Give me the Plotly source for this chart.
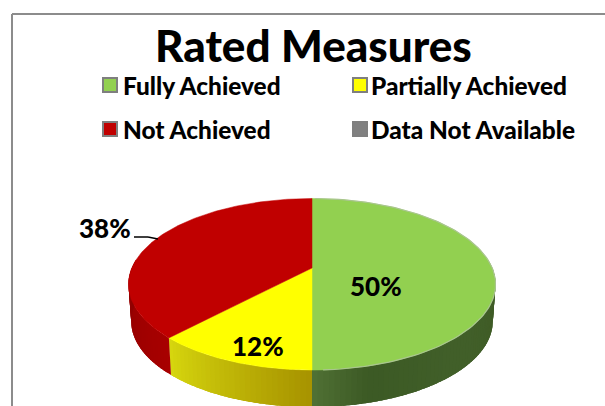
import numpy as np
import plotly.graph_objects as go

categories = ["Fully Achieved", "Partially Achieved", "Not Achieved", "Data Not Available"]
values = [50, 12, 38, 0]
title = "Rated Measures"

top_colors = {"Fully Achieved": "#92d050", "Partially Achieved": "#ffff00", "Not Achieved": "#c00000", "Data Not Available": "#808080"}
side_stops = {
    "Fully Achieved": [(0.0, "#3e5a25"), (0.55, "#42602a"), (0.85, "#3c5a25"), (1.0, "#4f7034")],
    "Partially Achieved": [(0.0, "#a89400"), (1.0, "#d6d60e")],
    "Not Achieved": [(0.0, "#a80000"), (1.0, "#8c0000")],
}
FONT = "Lato, Carlito, Calibri, sans-serif"

# projective pie geometry in pixel axes
CX, CY, AX, BY, K = 312.0, 268.0, 180.2, 82.7, 0.1895
DEPTH, SHRINK = 37.0, 0.985


def project(theta, depth=0.0, shrink=1.0):
    X, Y = np.sin(theta), np.cos(theta)
    w = 1 + K * Y
    return CX + shrink * AX * X / w, CY + depth - BY * Y / w


def hex2rgb(h):
    return np.array([int(h[i:i + 2], 16) for i in (1, 3, 5)], float)


def ramp(stops, t):
    for (a, ca), (b, cb) in zip(stops, stops[1:]):
        if t <= b:
            f = (t - a) / (b - a)
            c = hex2rgb(ca) * (1 - f) + hex2rgb(cb) * f
            return "rgb(%d,%d,%d)" % tuple(c)
    return stops[-1][1]


fig = go.Figure()
total = sum(values)
edges = np.cumsum([0] + values) / total * 2 * np.pi

# side wall (front half only: theta between 90 and 270 degrees)
for i, cat in enumerate(categories):
    t0, t1 = edges[i], edges[i + 1]
    if t1 <= t0:
        continue
    lo, hi = max(t0, np.radians(84)), min(t1, np.radians(276))
    if hi <= lo:
        continue
    n = int(np.degrees(hi - lo) / 1.5) + 1
    ts = np.linspace(lo, hi, n + 1)
    for j in range(n):
        # each band reaches over the next one so no seams show between them
        a = np.linspace(ts[j], min(ts[j] + 2.5 * (ts[1] - ts[0]), hi), 4)
        xt, yt = project(a)
        xb, yb = project(a[::-1], DEPTH, SHRINK)
        col = ramp(side_stops[cat], j / max(n - 1, 1))
        fig.add_trace(go.Scatter(
            x=np.r_[xt, xb, xt[0]], y=np.r_[yt, yb, yt[0]], mode="none", fill="toself",
            fillcolor=col, hoverinfo="skip", showlegend=False))

# top face
for i, cat in enumerate(categories):
    t0, t1 = edges[i], edges[i + 1]
    if t1 <= t0:
        continue
    a = np.linspace(t0, t1, 150)
    x, y = project(a)
    fig.add_trace(go.Scatter(
        x=np.r_[CX, x, CX], y=np.r_[CY, y, CY], mode="lines", fill="toself", name=cat,
        fillcolor=top_colors[cat], line=dict(color=top_colors[cat], width=0.5),
        hoverinfo="skip", showlegend=False))

# lighter rim on green slice
a = np.linspace(edges[0] + 0.02, edges[1] - 0.05, 120)
x, y = project(a)
fig.add_trace(go.Scatter(x=x, y=y, mode="lines", line=dict(color="#a9c58f", width=1.2),
                         hoverinfo="skip", showlegend=False))

# legend
leg_x = [110, 360, 110, 360]
leg_y = [85, 85, 129, 129]
text_x = [121, 369, 121, 369]
for cat, lx, ly in zip(categories, leg_x, leg_y):
    fig.add_trace(go.Scatter(
        x=[lx], y=[ly], mode="markers",
        marker=dict(symbol="square", size=14, color=top_colors[cat], line=dict(color="#7f7f7f", width=2)),
        hoverinfo="skip", showlegend=False, cliponaxis=False))

annotations = [
    dict(x=tx, y=ly, text=cat, showarrow=False, xref="x", yref="y", xanchor="left", yanchor="middle",
         font=dict(family=FONT, size=24.4, color="#000000", weight=900))
    for cat, tx, ly in zip(categories, text_x, leg_y)
]

# labels
lab_x = [376, 258, 105]
lab_y = [286, 346, 228]
annotations += [
    dict(x=lx, y=ly, text=f"{v}%", showarrow=False, xref="x", yref="y",
         font=dict(family=FONT, size=26, color="#000000", weight=900))
    for lx, ly, v in zip(lab_x, lab_y, values)
]
annotations.append(dict(x=313, y=45, text=title, showarrow=False, xref="x", yref="y",
                        font=dict(family=FONT, size=44, color="#000000", weight=900)))

shapes = [
    dict(type="line", x0=134, y0=237, x1=148, y1=237, line=dict(color="#000000", width=1.5)),
    dict(type="line", x0=148, y0=237, x1=158, y1=239, line=dict(color="#000000", width=1.5)),
    dict(type="line", x0=12, y0=14, x1=605, y1=14, line=dict(color="#8c8c8c", width=2)),
    dict(type="line", x0=12, y0=14, x1=12, y1=406, line=dict(color="#8c8c8c", width=2)),
]

fig.update_layout(
    width=605, height=406, margin=dict(l=0, r=0, t=0, b=0),
    paper_bgcolor="#ffffff", plot_bgcolor="#ffffff",
    xaxis=dict(range=[0, 605], visible=False, fixedrange=True),
    yaxis=dict(range=[406, 0], visible=False, fixedrange=True),
    annotations=annotations, shapes=shapes, showlegend=False,
)
fig.write_html("out.html", config=dict(displayModeBar=False),
               post_script="document.body.style.margin='0';document.body.style.overflow='hidden';")
